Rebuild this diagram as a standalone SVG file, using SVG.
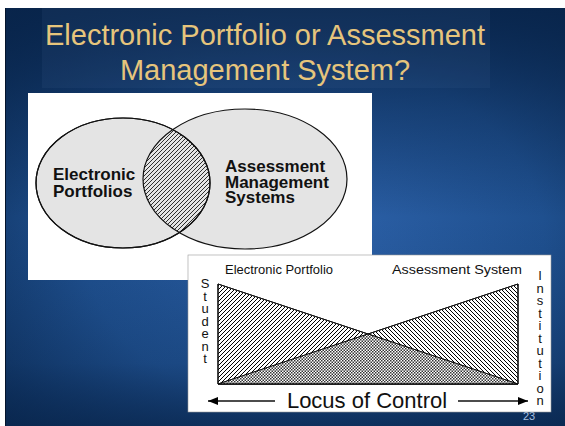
<svg xmlns="http://www.w3.org/2000/svg" width="565" height="426" viewBox="0 0 565 426">
<defs>
<radialGradient id="bg" cx="0.55" cy="0.55" r="0.75">
<stop offset="0" stop-color="#2d62aa"/>
<stop offset="0.55" stop-color="#1f508f"/>
<stop offset="1" stop-color="#0b2b55"/>
</radialGradient>
<linearGradient id="topdark" x1="0" y1="0" x2="0" y2="1">
<stop offset="0" stop-color="#08244a" stop-opacity="0.9"/>
<stop offset="0.25" stop-color="#08244a" stop-opacity="0.4"/>
<stop offset="0.5" stop-color="#08244a" stop-opacity="0"/>
<stop offset="0.85" stop-color="#08244a" stop-opacity="0.2"/>
<stop offset="1" stop-color="#08244a" stop-opacity="0.7"/>
</linearGradient>
<pattern id="hatchR" width="4" height="4" patternUnits="userSpaceOnUse">
<path d="M-1,1 l2,-2 M0,4 l4,-4 M3,5 l2,-2" stroke="#000" stroke-width="1"/>
</pattern>
<pattern id="hatchL" width="4" height="4" patternUnits="userSpaceOnUse">
<path d="M-1,3 l2,2 M0,0 l4,4 M3,-1 l2,2" stroke="#000" stroke-width="1"/>
</pattern>
<pattern id="venHatch" width="4" height="4" patternUnits="userSpaceOnUse">
<path d="M-1,1 l2,-2 M0,4 l4,-4 M3,5 l2,-2" stroke="#000" stroke-width="0.8"/>
</pattern>
<pattern id="checker" width="3" height="3" patternUnits="userSpaceOnUse">
<rect width="3" height="3" fill="#fff"/>
<rect x="0" y="0" width="1.5" height="1.5" fill="#333"/>
<rect x="1.5" y="1.5" width="1.5" height="1.5" fill="#333"/>
</pattern>
<clipPath id="clipL"><ellipse cx="123" cy="183" rx="87" ry="65"/></clipPath>
<marker id="arr" viewBox="0 0 10 8" refX="10" refY="4" markerWidth="10" markerHeight="8" markerUnits="userSpaceOnUse" orient="auto">
<path d="M0,0 L10,4 L0,8 Z" fill="#000"/>
</marker>
<style>
.title{font-family:"Liberation Sans",Arial,sans-serif;font-size:29px;fill:#e6c57c;text-anchor:middle}
.vb{font-family:"Liberation Sans",Arial,sans-serif;font-size:17px;font-weight:bold;fill:#111}
.lbl{font-family:"Liberation Sans",Arial,sans-serif;font-size:13px;fill:#111}
.vert{font-family:"Liberation Sans",Arial,sans-serif;font-size:13px;fill:#111;writing-mode:vertical-rl;text-orientation:upright;letter-spacing:-2.5px}
.ell{fill:#e4e4e4;stroke:#111;stroke-width:1.2}
</style>
</defs>

<!-- background -->
<rect x="0" y="0" width="565" height="426" fill="#fff"/>
<rect x="5" y="8" width="560" height="418" fill="url(#bg)"/>
<rect x="5" y="8" width="560" height="418" fill="url(#topdark)"/>
<line x1="5.5" y1="8" x2="5.5" y2="426" stroke="#04142c" stroke-width="1"/>

<!-- title -->
<g id="title">
<rect x="42" y="8" width="448" height="80" fill="#4a6a9a" opacity="0.12"/>
<text class="title" x="265" y="45">Electronic Portfolio or Assessment<tspan x="265" y="80">Management System?</tspan></text>
</g>

<!-- page number -->
<text x="529" y="420" font-family="Liberation Sans,Arial,sans-serif" font-size="11" fill="#a9c0e0" text-anchor="middle">23</text>

<!-- Venn diagram -->
<g id="venn">
<rect x="28" y="93" width="344" height="187" fill="#fff"/>
<ellipse class="ell" cx="245" cy="179" rx="102" ry="70"/>
<ellipse class="ell" cx="123" cy="183" rx="87" ry="65"/>
<ellipse cx="245" cy="179" rx="102" ry="70" fill="url(#venHatch)" clip-path="url(#clipL)"/>
<ellipse cx="245" cy="179" rx="102" ry="70" fill="none" stroke="#111" stroke-width="1.2" clip-path="url(#clipL)"/>
<ellipse cx="123" cy="183" rx="87" ry="65" fill="none" stroke="#111" stroke-width="1.2"/>
<g id="ep-label"><text class="vb" x="53" y="180">Electronic<tspan x="53" y="197">Portfolios</tspan></text></g>
<g id="ams-label"><text class="vb" x="225" y="172">Assessment<tspan x="225" y="187.5">Management</tspan><tspan x="225" y="203">Systems</tspan></text></g>
</g>

<!-- Locus of control diagram -->
<g id="locus">
<rect x="188" y="255" width="363" height="157" fill="#fff" stroke="#9a9a9a" stroke-width="0.6"/>
<polygon id="tri-ep" points="218,284 218,384 518,384" fill="url(#hatchR)" stroke="#111" stroke-width="1"/>
<polygon id="tri-as" points="518,284 518,384 218,384" fill="url(#hatchL)" stroke="#111" stroke-width="1"/>
<polygon id="overlap" points="218,384 368,334 518,384" fill="url(#checker)"/>
<polyline points="218,284 518,384" fill="none" stroke="#111" stroke-width="1"/>
<polyline points="518,284 218,384" fill="none" stroke="#111" stroke-width="1"/>
<line x1="218" y1="284" x2="218" y2="384" stroke="#111" stroke-width="1.2"/>
<line x1="518" y1="284" x2="518" y2="384" stroke="#111" stroke-width="1.2"/>
<line x1="218" y1="384" x2="518" y2="384" stroke="#111" stroke-width="1.5"/>

<text class="lbl" x="225" y="274" textLength="108" lengthAdjust="spacingAndGlyphs">Electronic Portfolio</text>
<text class="lbl" x="392" y="274" textLength="130" lengthAdjust="spacingAndGlyphs">Assessment System</text>

<text id="student" class="vert" x="205" y="276">Student</text>
<text id="institution" class="vert" x="540" y="268">Institution</text>
<text x="367" y="408" font-family="Liberation Sans,Arial,sans-serif" font-size="22" fill="#111" text-anchor="middle">Locus of Control</text>
</g>

<g id="connectors">
<line x1="275" y1="401" x2="208" y2="401" stroke="#111" stroke-width="1.3" marker-end="url(#arr)"/>
<line x1="458" y1="401" x2="528" y2="401" stroke="#111" stroke-width="1.3" marker-end="url(#arr)"/>
</g>
</svg>
